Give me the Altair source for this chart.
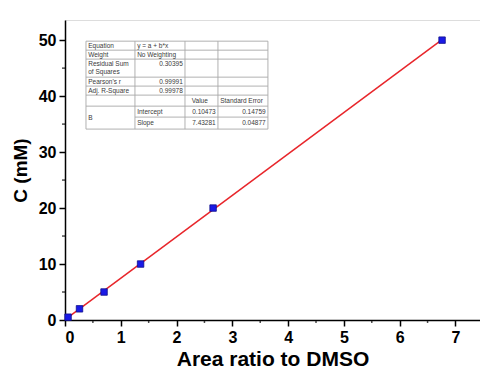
import altair as alt
import pandas as pd

# ---- data ----
area_ratio = [0.055, 0.26, 0.70, 1.355, 2.655, 6.76]
conc_mM = [0.5, 2.0, 5.0, 10.0, 20.0, 50.0]

x_ticks = [0, 1, 2, 3, 4, 5, 6, 7]
x_minor = [0.5, 1.5, 2.5, 3.5, 4.5, 5.5, 6.5]
y_ticks = [0, 10, 20, 30, 40, 50]
y_minor = [5, 15, 25, 35, 45]

# fit-report table contents
tbl_labels = ["Equation", "Weight", "Residual Sum\nof Squares", "Pearson's r", "Adj. R-Square"]
tbl_values = ["y = a + b*x", "No Weighting", "0.30395", "0.99991", "0.99978"]
tbl_head = ["Value", "Standard Error"]
tbl_param = "B"
tbl_rows = ["Intercept", "Slope"]
tbl_val = ["0.10473", "7.43281"]
tbl_err = ["0.14759", "0.04877"]

# ---- layout (data units of the chart's scales) ----
XMAX, YMAX = 7.44, 53.6
cols = [0.376, 1.254, 2.151, 2.742, 3.638]
rows = [49.82, 48.21, 46.61, 43.39, 41.79, 40.18, 38.21, 36.25, 34.11]

df = pd.DataFrame({"x": area_ratio, "y": conc_mM})

xs = alt.Scale(domain=[0, XMAX], nice=False, zero=False)
ys = alt.Scale(domain=[0, YMAX], nice=False, zero=False)

FONT = "Liberation Sans"

base = alt.Chart(df)

fit = base.transform_regression("x", "y", method="linear").mark_line(
    color="#e8262b", strokeWidth=1.5, clip=False
).encode(
    x=alt.X("x:Q", scale=xs,
            axis=alt.Axis(values=x_ticks, title="Area ratio to DMSO", format="d",
                          labelFont=FONT, labelFontWeight="bold", labelFontSize=16,
                          labelColor="black", titleFont=FONT, titleFontWeight="bold",
                          titleFontSize=21, titleColor="black", tickSize=6,
                          tickWidth=1.5, tickColor="black", domainColor="black",
                          domainWidth=1.5, grid=False, labelPadding=3, titlePadding=3)),
    y=alt.Y("y:Q", scale=ys,
            axis=alt.Axis(values=y_ticks, title="C (mM)", format="d",
                          labelFont=FONT, labelFontWeight="bold", labelFontSize=16,
                          labelColor="black", titleFont=FONT, titleFontWeight="bold",
                          titleFontSize=19, titleColor="black", tickSize=6,
                          tickWidth=1.5, tickColor="black", domainColor="black",
                          domainWidth=1.5, grid=False, labelPadding=3, titlePadding=8)),
)

pts = base.mark_square(size=42, color="#1a1ae6", stroke="#10108a", strokeWidth=0.8,
                       opacity=1, clip=False).encode(
    x=alt.X("x:Q", scale=xs), y=alt.Y("y:Q", scale=ys))

# minor ticks
xminor = alt.Chart(pd.DataFrame({"x": x_minor})).mark_tick(
    orient="vertical", color="black", thickness=1.5, size=3
).encode(x=alt.X("x:Q", scale=xs), y=alt.value(300 + 1.5))
yminor = alt.Chart(pd.DataFrame({"y": y_minor})).mark_tick(
    orient="horizontal", color="black", thickness=1.5, size=3
).encode(y=alt.Y("y:Q", scale=ys), x=alt.value(-1.5))

# table grid
h_lines = []
for i, r in enumerate(rows):
    x0 = cols[1] if i == 7 else cols[0]
    h_lines.append({"x": x0, "x2": cols[-1], "y": r, "y2": r})
v_lines = [{"x": c, "x2": c, "y": rows[0], "y2": rows[-1]} for c in cols]
grid = alt.Chart(pd.DataFrame(h_lines + v_lines)).mark_rule(
    color="#a8a8a8", strokeWidth=0.9
).encode(x=alt.X("x:Q", scale=xs), x2="x2:Q", y=alt.Y("y:Q", scale=ys), y2="y2:Q")

pad = 0.04
texts = []
def mid(i):
    return (rows[i] + rows[i + 1]) / 2
for i, lab in enumerate(tbl_labels):
    if "\n" in lab:
        a, b = lab.split("\n")
        texts.append({"x": cols[0] + pad, "y": rows[i] - 0.85, "t": a, "al": "left"})
        texts.append({"x": cols[0] + pad, "y": rows[i] - 2.35, "t": b, "al": "left"})
    else:
        texts.append({"x": cols[0] + pad, "y": mid(i), "t": lab, "al": "left"})
for i, v in enumerate(tbl_values):
    if i < 2:
        texts.append({"x": cols[1] + pad, "y": mid(i), "t": v, "al": "left"})
    elif i == 2:
        texts.append({"x": cols[2] - pad, "y": rows[i] - 0.85, "t": v, "al": "right"})
    else:
        texts.append({"x": cols[2] - pad, "y": mid(i), "t": v, "al": "right"})
texts.append({"x": cols[2] + 0.12, "y": mid(5), "t": tbl_head[0], "al": "left"})
texts.append({"x": cols[3] + pad, "y": mid(5), "t": tbl_head[1], "al": "left"})
texts.append({"x": cols[0] + pad, "y": (rows[6] + rows[8]) / 2, "t": tbl_param, "al": "left"})
for k in range(2):
    texts.append({"x": cols[1] + pad, "y": mid(6 + k), "t": tbl_rows[k], "al": "left"})
    texts.append({"x": cols[3] - pad, "y": mid(6 + k), "t": tbl_val[k], "al": "right"})
    texts.append({"x": cols[4] - pad, "y": mid(6 + k), "t": tbl_err[k], "al": "right"})
tdf = pd.DataFrame(texts)

def tlayer(al):
    return alt.Chart(tdf[tdf["al"] == al]).mark_text(
        align=al, baseline="middle", font="Arial", fontSize=6.5, color="#3a3a3a"
    ).encode(x=alt.X("x:Q", scale=xs), y=alt.Y("y:Q", scale=ys), text="t:N")

chart = alt.layer(grid, tlayer("left"), tlayer("right"), fit, pts, xminor, yminor).properties(
    width=415, height=300,
    autosize=alt.AutoSizeParams(type="none"),
    padding={"left": 65, "top": 20, "right": 0, "bottom": 52},
).configure_view(stroke=None).configure(background="white")

chart.save("out.html", embed_options={"renderer": "svg", "actions": False})
